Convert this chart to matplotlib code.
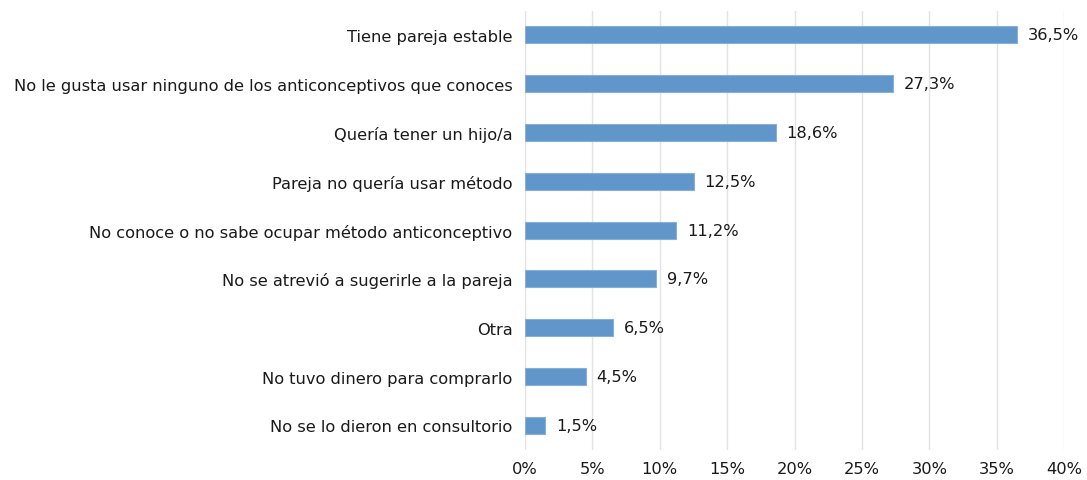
import matplotlib
matplotlib.use("Agg")
import matplotlib.pyplot as plt

categories = [
    "Tiene pareja estable",
    "No le gusta usar ninguno de los anticonceptivos que conoces",
    "Quería tener un hijo/a",
    "Pareja no quería usar método",
    "No conoce o no sabe ocupar método anticonceptivo",
    "No se atrevió a sugerirle a la pareja",
    "Otra",
    "No tuvo dinero para comprarlo",
    "No se lo dieron en consultorio",
]
values = [36.5, 27.3, 18.6, 12.5, 11.2, 9.7, 6.5, 4.5, 1.5]
xticks = [0, 5, 10, 15, 20, 25, 30, 35, 40]
xtick_labels = [f"{t}%" for t in xticks]

plt.rcParams['font.family'] = ['DejaVu Sans']
fs = 11.7
fig = plt.figure(figsize=(10.87, 4.81), dpi=100)
ax = fig.add_axes([0.483, 0.063, 0.496, 0.913])

ypos = list(range(len(categories)))
ax.barh(ypos, values, height=0.35, color="#6196CB", edgecolor="#86B0DA", linewidth=0.8, zorder=3)
for y, v in zip(ypos, values):
    ax.text(v + 0.8, y, f"{v:.1f}%".replace(".", ","), va="center", ha="left",
            fontsize=fs, color="#1a1a1a")

ax.set_ylim(len(categories) - 0.5, -0.5)
ax.set_xlim(0, 40)
ax.set_yticks(ypos)
ax.set_yticklabels(categories, fontsize=fs, color="#1a1a1a")
ax.set_xticks(xticks)
ax.set_xticklabels(xtick_labels, fontsize=fs, color="#1a1a1a")
ax.tick_params(axis="both", length=0)
ax.tick_params(axis="y", pad=9)
ax.tick_params(axis="x", pad=8)
ax.xaxis.grid(True, color="#E3E3E3", linewidth=1, zorder=0)
ax.set_axisbelow(True)
for s in ax.spines.values():
    s.set_visible(False)

fig.savefig("out.png", dpi=100)
